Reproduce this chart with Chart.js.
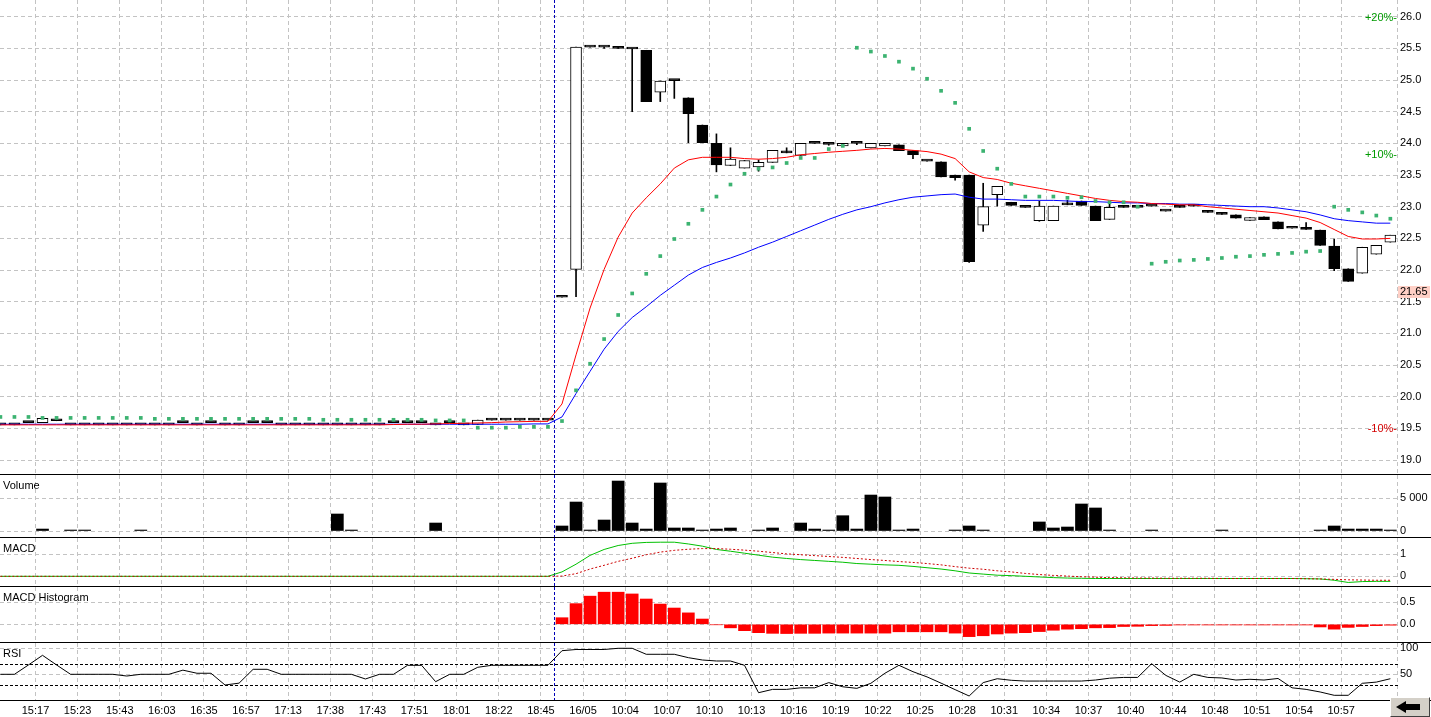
<!DOCTYPE html>
<html>
<head>
<meta charset="utf-8">
<title>Intraday chart</title>
<script src="https://cdn.jsdelivr.net/npm/chart.js@4.4.1/dist/chart.umd.min.js"></script>
<style>
  html, body { margin: 0; padding: 0; background: #fff; }
  #wrap { position: relative; width: 1431px; height: 717px; overflow: hidden; background: #fff; }
  #wrap canvas { position: absolute; left: 0; }
  .sep { position: absolute; left: 0; width: 1431px; height: 1px; background: #000; }
  #btn { position: absolute; left: 1390px; top: 697px; width: 40px; height: 20px; box-sizing: border-box;
         background: #d4d0c8; border-top: 1px solid #fff; border-left: 1px solid #fff;
         border-right: 1px solid #404040; border-bottom: 1px solid #404040; }
  #btn .head { position: absolute; left: 5px; top: 3px; width: 0; height: 0;
               border-top: 6px solid transparent; border-bottom: 6px solid transparent; border-right: 10px solid #000; }
  #btn .tail { position: absolute; left: 14px; top: 6px; width: 15px; height: 6px; background: #000; }
</style>
</head>
<body>
<div id="wrap">
  <canvas id="price" width="1431" height="474" style="top:0px"></canvas>
  <canvas id="volume" width="1431" height="62" style="top:475px"></canvas>
  <canvas id="macd" width="1431" height="48" style="top:538px"></canvas>
  <canvas id="hist" width="1431" height="55" style="top:587px"></canvas>
  <canvas id="rsi" width="1431" height="74" style="top:643px"></canvas>
  <div class="sep" style="top:474px"></div>
  <div class="sep" style="top:537px"></div>
  <div class="sep" style="top:586px"></div>
  <div class="sep" style="top:642px"></div>
  <div class="sep" style="top:700px"></div>
  <div id="btn"><div class="head"></div><div class="tail"></div></div>
</div>
<script>
// ---------------- data ----------------
// one entry per bar: 40 bars of the previous session, then 60 bars of 16/05
const timeLabels = ['15:17','15:23','15:43','16:03','16:35','16:57','17:13','17:38','17:43','17:51','18:01','18:22','18:45',
  '16/05','10:04','10:07','10:10','10:13','10:16','10:19','10:22','10:25','10:28','10:31','10:34','10:37','10:40',
  '10:44','10:48','10:51','10:54','10:57'];
const sessionStart = 40;
const prevClose = 21.65;
const pctLevels = [20, 10, -10];

const opens = [
  19.555,19.555,19.59,19.59,19.62,19.555,19.555,19.555,19.555,19.555,
  19.555,19.555,19.555,19.59,19.555,19.59,19.555,19.555,19.59,19.59,
  19.555,19.555,19.555,19.555,19.555,19.555,19.555,19.555,19.59,19.59,
  19.59,19.555,19.59,19.555,19.56,19.63,19.63,19.63,19.63,19.63,
  21.57,22.01,25.52,25.52,25.53,25.49,25.47,24.81,24.99,24.72,
  24.29,24.00,23.65,23.61,23.63,23.70,23.875,23.81,24.00,23.985,
  23.96,24.00,23.93,23.96,23.975,23.885,23.72,23.71,23.50,23.50,
  22.71,23.19,23.07,22.99,22.78,22.78,23.03,23.09,23.01,22.80,
  23.01,22.99,23.01,22.93,23.01,23.03,22.93,22.90,22.87,22.785,
  22.84,22.76,22.66,22.675,22.63,22.38,22.02,21.95,22.25,22.44];
const highs = [
  19.555,19.555,19.59,19.66,19.62,19.555,19.555,19.555,19.555,19.555,
  19.555,19.555,19.555,19.59,19.555,19.59,19.555,19.555,19.59,19.59,
  19.555,19.555,19.555,19.555,19.555,19.555,19.555,19.555,19.59,19.59,
  19.59,19.555,19.59,19.555,19.63,19.63,19.63,19.63,19.63,19.63,
  21.57,25.52,25.52,25.52,25.53,25.49,25.47,24.985,24.99,24.72,
  24.29,24.15,23.93,23.73,23.74,23.89,23.93,24.00,24.00,23.985,
  24.00,24.00,24.00,24.00,23.975,23.885,23.72,23.71,23.50,23.50,
  23.37,23.32,23.07,22.99,23.09,23.01,23.10,23.09,23.01,23.05,
  23.01,22.99,23.01,22.93,23.01,23.03,22.93,22.90,22.87,22.83,
  22.84,22.76,22.66,22.75,22.63,22.49,22.02,22.36,22.39,22.55];
const lows = [
  19.555,19.555,19.59,19.59,19.62,19.555,19.555,19.555,19.555,19.555,
  19.555,19.555,19.555,19.59,19.555,19.59,19.555,19.555,19.59,19.59,
  19.555,19.555,19.555,19.555,19.555,19.555,19.555,19.555,19.59,19.59,
  19.59,19.555,19.59,19.555,19.56,19.63,19.63,19.63,19.63,19.63,
  21.57,21.58,25.52,25.50,25.50,24.50,24.66,24.66,24.71,24.01,
  24.01,23.55,23.65,23.61,23.56,23.70,23.85,23.81,24.00,23.97,
  23.96,23.98,23.93,23.96,23.885,23.76,23.72,23.47,23.42,22.12,
  22.61,23.01,23.02,22.99,22.77,22.78,23.03,23.02,22.78,22.80,
  22.99,22.99,23.01,22.93,22.99,23.01,22.91,22.88,22.82,22.785,
  22.795,22.65,22.66,22.64,22.39,21.99,21.82,21.95,22.25,22.44];
const closes = [
  19.555,19.555,19.59,19.66,19.62,19.555,19.555,19.555,19.555,19.555,
  19.555,19.555,19.555,19.59,19.555,19.59,19.555,19.555,19.59,19.59,
  19.555,19.555,19.555,19.555,19.555,19.555,19.555,19.555,19.59,19.59,
  19.59,19.555,19.59,19.555,19.63,19.63,19.63,19.63,19.63,19.63,
  21.57,25.52,25.52,25.52,25.50,25.49,24.66,24.985,24.99,24.47,
  24.01,23.66,23.75,23.73,23.70,23.89,23.85,24.00,24.00,23.985,
  24.00,24.00,24.00,24.00,23.885,23.82,23.72,23.47,23.46,22.13,
  23.00,23.32,23.02,22.99,23.01,23.01,23.03,23.02,22.78,22.99,
  22.99,22.99,23.01,22.93,22.99,23.01,22.91,22.88,22.82,22.83,
  22.795,22.65,22.66,22.64,22.39,22.02,21.82,22.36,22.39,22.55];

// moving averages (red = fast, blue = slow) and parabolic SAR
const emaFast = [
  19.555,19.555,19.555,19.555,19.555,19.555,19.555,19.555,19.555,19.555,
  19.555,19.555,19.555,19.555,19.555,19.555,19.555,19.555,19.555,19.555,
  19.555,19.555,19.555,19.555,19.555,19.555,19.555,19.555,19.56,19.565,
  19.565,19.57,19.575,19.58,19.585,19.59,19.60,19.605,19.61,19.61,
  19.885,20.66,21.40,22.01,22.52,22.90,23.14,23.36,23.61,23.74,
  23.78,23.78,23.78,23.76,23.75,23.76,23.78,23.82,23.84,23.86,
  23.875,23.89,23.91,23.92,23.91,23.89,23.87,23.83,23.76,23.55,
  23.46,23.43,23.37,23.33,23.29,23.25,23.21,23.17,23.13,23.10,
  23.08,23.07,23.05,23.04,23.03,23.03,23.00,22.98,22.96,22.94,
  22.92,22.90,22.86,22.82,22.75,22.64,22.53,22.49,22.49,22.50];
const emaSlow = [
  19.565,19.565,19.565,19.565,19.565,19.565,19.565,19.565,19.565,19.565,
  19.565,19.565,19.565,19.565,19.565,19.565,19.565,19.565,19.565,19.565,
  19.565,19.565,19.565,19.565,19.565,19.565,19.565,19.565,19.565,19.565,
  19.565,19.565,19.565,19.565,19.565,19.565,19.565,19.565,19.57,19.57,
  19.68,20.05,20.40,20.75,21.03,21.25,21.42,21.60,21.76,21.92,
  22.04,22.12,22.19,22.27,22.36,22.44,22.53,22.62,22.71,22.80,
  22.88,22.95,23.00,23.06,23.11,23.15,23.17,23.19,23.20,23.15,
  23.12,23.12,23.11,23.10,23.10,23.10,23.09,23.08,23.08,23.07,
  23.06,23.06,23.05,23.05,23.04,23.04,23.03,23.02,23.01,23.00,
  23.00,22.98,22.95,22.92,22.87,22.81,22.78,22.76,22.74,22.74];
const sar = [
  19.68,19.68,19.68,19.665,19.665,19.665,19.665,19.665,19.665,19.665,
  19.665,19.65,19.65,19.65,19.65,19.65,19.65,19.65,19.65,19.65,
  19.65,19.65,19.65,19.635,19.635,19.635,19.635,19.635,19.635,19.635,
  19.635,19.625,19.625,19.625,19.51,19.51,19.51,19.525,19.525,19.525,
  19.615,20.10,20.52,20.91,21.29,21.63,21.94,22.22,22.49,22.73,
  22.95,23.16,23.35,23.52,23.60,23.62,23.69,23.77,23.77,23.91,
  23.96,25.51,25.45,25.38,25.29,25.18,25.02,24.83,24.64,24.23,
  23.88,23.60,23.36,23.16,23.16,23.16,23.14,23.15,23.09,23.07,
  23.07,23.00,22.10,22.13,22.15,22.16,22.175,22.19,22.21,22.22,
  22.24,22.255,22.27,22.29,22.30,23.00,22.95,22.91,22.86,22.81];

const volume = [
  0,0,0,300,0,150,150,0,0,0,
  150,0,0,0,0,0,0,0,0,0,
  0,0,0,0,2600,150,0,0,0,0,
  0,1220,0,0,0,0,0,0,0,0,
  765,4430,150,1680,7640,1220,300,7340,460,460,
  150,300,460,0,150,460,0,1220,300,150,
  2340,300,5500,5200,150,300,0,0,150,765,
  150,0,0,0,1380,460,610,4130,3520,150,
  0,0,150,0,0,0,0,150,0,0,
  0,0,0,0,150,765,300,300,300,150];

const macd = [
  0,0,0,0,0,0,0,0,0,0, 0,0,0,0,0,0,0,0,0,0,
  0,0,0,0,0,0,0,0,0,0, 0,0,0,0,0,0,0,0,0,0,
  0.2,0.55,0.95,1.22,1.40,1.50,1.54,1.55,1.55,1.47,
  1.37,1.22,1.14,1.05,0.96,0.87,0.81,0.76,0.72,0.68,
  0.64,0.58,0.55,0.52,0.50,0.45,0.39,0.33,0.25,0.15,
  0.10,0.05,0.03,0.0,-0.03,-0.06,-0.08,-0.09,-0.1,-0.1,
  -0.1,-0.1,-0.1,-0.1,-0.1,-0.1,-0.1,-0.1,-0.1,-0.1,
  -0.1,-0.1,-0.1,-0.11,-0.12,-0.18,-0.28,-0.24,-0.23,-0.23];
const signal = [
  0,0,0,0,0,0,0,0,0,0, 0,0,0,0,0,0,0,0,0,0,
  0,0,0,0,0,0,0,0,0,0, 0,0,0,0,0,0,0,0,0,0,
  0.01,0.12,0.33,0.50,0.68,0.82,0.98,1.10,1.18,1.23,
  1.26,1.26,1.23,1.19,1.14,1.08,1.02,0.98,0.94,0.90,
  0.86,0.81,0.76,0.72,0.67,0.63,0.58,0.52,0.44,0.37,
  0.32,0.25,0.20,0.13,0.08,0.04,0.01,-0.02,-0.04,-0.06,
  -0.07,-0.08,-0.08,-0.09,-0.09,-0.09,-0.09,-0.1,-0.1,-0.1,
  -0.1,-0.1,-0.1,-0.11,-0.12,-0.14,-0.16,-0.17,-0.18,-0.18];
const histogram = [
  0,0,0,0,0,0,0,0,0,0, 0,0,0,0,0,0,0,0,0,0,
  0,0,0,0,0,0,0,0,0,0, 0,0,0,0,0,0,0,0,0,0,
  0.15,0.47,0.64,0.73,0.73,0.69,0.575,0.46,0.37,0.26,
  0.12,-0.01,-0.08,-0.145,-0.19,-0.205,-0.21,-0.205,-0.205,-0.2,
  -0.2,-0.2,-0.2,-0.2,-0.17,-0.17,-0.17,-0.17,-0.2,-0.28,
  -0.26,-0.22,-0.2,-0.19,-0.165,-0.135,-0.11,-0.10,-0.08,-0.075,
  -0.05,-0.045,-0.03,-0.025,-0.015,-0.015,-0.015,-0.015,-0.015,-0.015,
  -0.015,-0.015,-0.015,-0.015,-0.06,-0.11,-0.07,-0.05,-0.03,-0.02];

const rsi = [
  50,50,68,86.5,68,50,50,50,50,46.7,
  50,50,50,58,52,52,29.4,33,59.6,59.6,
  50,50,50,50,50,50,41,50,50,67.3,
  67.3,35.8,50,50,63.5,67.3,67.3,67.3,67.3,67.3,
  95.4,97.7,97.7,97.7,100,100,88.5,88.5,88.5,82,
  77.5,75.6,75.6,67.3,14.6,21,21,24,24,34,
  26,23,32.7,52,67.3,55,45,33,20.5,8.3,
  34,41.5,38.5,37,37,37,37,37,39,42.5,
  44,44,70.4,48,35,50,44,43,39,40.4,
  39,42,24,21,16,9.6,9.6,32.7,35,41.5];
const rsiLevels = [70, 30];

const priceTicks = [19.0,19.5,20.0,20.5,21.0,21.5,22.0,22.5,23.0,23.5,24.0,24.5,25.0,25.5,26.0];
const volumeTicks = [0, 5000];
const macdTicks = [0, 1];
const histTicks = [0, 0.5];
const rsiTicks = [50, 100];

// ---------------- helpers ----------------
Chart.defaults.font.family = '"Liberation Sans", Arial, sans-serif';
Chart.defaults.font.size = 11;
Chart.defaults.color = '#000';

const idx = opens.map((_, i) => i);
const gridAt = timeLabels.map((_, m) => 2.5 + 3 * m);
const GRID = '#c3c3c3';

function noPadding(s) {
  s.paddingTop = 0; s.paddingBottom = 0; s.paddingLeft = 0; s.paddingRight = 0;
}

function xScale(showLabels) {
  return {
    type: 'linear', min: -0.0285, max: 99.545, bounds: 'data', offset: false,
    afterBuildTicks: s => { s.ticks = gridAt.map(v => ({ value: v })); },
    afterFit: s => { s.height = showLabels ? 17 : 0; noPadding(s); },
    grid: { color: GRID, drawTicks: false, offset: false },
    border: { display: false, dash: [4, 3] },
    ticks: { display: showLabels, autoSkip: false, maxRotation: 0, padding: 4,
             callback: (v, i) => timeLabels[i] }
  };
}

function yScale(min, max, ticks, fmt) {
  return {
    position: 'right', min: min, max: max, bounds: 'data',
    afterBuildTicks: s => { s.ticks = ticks.map(v => ({ value: v })); },
    afterFit: s => { s.width = 33; noPadding(s); },
    grid: { color: GRID, drawTicks: false },
    border: { display: false, dash: [4, 3] },
    ticks: { padding: 2, autoSkip: false, callback: fmt }
  };
}

// separator for the session, right-hand dashed axis, panel name, reference lines
const panelPlugin = {
  id: 'panel',
  beforeDatasetsDraw(chart, args, opts) {
    const { ctx, chartArea } = chart;
    const xs = chart.scales.x;
    ctx.save();
    ctx.lineWidth = 1;
    // right axis line
    ctx.strokeStyle = GRID;
    ctx.setLineDash([4, 3]);
    ctx.beginPath();
    ctx.moveTo(Math.round(chartArea.right) - 0.5, chartArea.top);
    ctx.lineTo(Math.round(chartArea.right) - 0.5, chartArea.bottom);
    ctx.stroke();
    // overbought / oversold lines
    if (opts.levels) {
      ctx.strokeStyle = '#000';
      ctx.setLineDash([3, 2]);
      opts.levels.forEach(v => {
        const y = Math.round(chart.scales.y.getPixelForValue(v)) + 0.5;
        ctx.beginPath();
        ctx.moveTo(chartArea.left, y);
        ctx.lineTo(chartArea.right, y);
        ctx.stroke();
      });
    }
    // start of the new session
    const x = Math.round(xs.getPixelForValue(sessionStart - 0.5)) - 0.5;
    ctx.strokeStyle = '#0000b8';
    ctx.setLineDash([3, 2]);
    ctx.beginPath();
    ctx.moveTo(x, chartArea.top);
    ctx.lineTo(x, chartArea.bottom);
    ctx.stroke();
    ctx.restore();
  },
  afterDraw(chart, args, opts) {
    const { ctx, chartArea } = chart;
    ctx.save();
    ctx.font = '11px "Liberation Sans", Arial, sans-serif';
    ctx.textBaseline = 'middle';
    if (opts.label) {
      ctx.fillStyle = '#000';
      ctx.textAlign = 'left';
      ctx.fillText(opts.label, 3, chartArea.top + 11);
    }
    if (opts.percent) {
      const ys = chart.scales.y;
      ctx.textAlign = 'right';
      pctLevels.forEach(p => {
        const y = ys.getPixelForValue(prevClose * (1 + p / 100));
        ctx.fillStyle = p > 0 ? '#009a00' : '#d40000';
        ctx.fillText((p > 0 ? '+' : '') + p + '%-', chartArea.right - 1, y);
      });
      const yc = Math.round(ys.getPixelForValue(prevClose));
      ctx.fillStyle = '#ffd0c6';
      ctx.fillRect(chartArea.right, yc - 6, chart.width - chartArea.right - 1, 12);
      ctx.fillStyle = '#000';
      ctx.textAlign = 'left';
      ctx.fillText(prevClose.toFixed(2), chartArea.right + 2, yc);
    }
    ctx.restore();
  }
};

function options(x, y, panel) {
  return {
    responsive: false, animation: false, devicePixelRatio: 1, events: [],
    layout: { padding: 0, autoPadding: false },
    plugins: { legend: { display: false }, tooltip: { enabled: false }, panel: panel },
    scales: { x: x, y: y }
  };
}

// ---------------- price ----------------
new Chart(document.getElementById('price'), {
  type: 'bar',
  data: {
    datasets: [
      { type: 'bar', data: idx.map(i => ({ x: i, y: [lows[i], highs[i]] })),
        backgroundColor: '#000', barThickness: 1, grouped: false, order: 6 },
      { type: 'bar', data: idx.map(i => ({ x: i, y: [opens[i], closes[i]] })),
        backgroundColor: idx.map(i => closes[i] > opens[i] ? '#fff' : '#000'),
        borderColor: '#000', borderWidth: 1, borderSkipped: false, minBarLength: 2,
        barThickness: 11, grouped: false, order: 5 },
      { type: 'line', data: idx.map(i => ({ x: i, y: emaSlow[i] })),
        borderColor: '#0000ff', borderWidth: 1, pointRadius: 0, tension: 0, order: 3 },
      { type: 'line', data: idx.map(i => ({ x: i, y: emaFast[i] })),
        borderColor: '#ff0000', borderWidth: 1, pointRadius: 0, tension: 0, order: 2 },
      { type: 'line', data: idx.map(i => ({ x: i, y: sar[i] })), showLine: false,
        pointStyle: 'rect', pointRadius: 2.6, pointBackgroundColor: '#3cb371',
        pointBorderWidth: 0, order: 1 }
    ]
  },
  options: options(xScale(false), yScale(18.779, 26.264, priceTicks, v => v.toFixed(1)),
                   { percent: true }),
  plugins: [panelPlugin]
});

// ---------------- volume ----------------
new Chart(document.getElementById('volume'), {
  type: 'bar',
  data: {
    datasets: [{ data: idx.filter(i => volume[i] > 0).map(i => ({ x: i, y: volume[i] })),
                 backgroundColor: '#000', barThickness: 12, grouped: false }]
  },
  options: options(xScale(false),
                   yScale(-917, 8563, volumeTicks, v => v === 0 ? '0' : (v / 1000) + ' 000'),
                   { label: 'Volume' }),
  plugins: [panelPlugin]
});

// ---------------- MACD ----------------
new Chart(document.getElementById('macd'), {
  type: 'line',
  data: {
    datasets: [
      { data: idx.map(i => ({ x: i, y: macd[i] })), borderColor: '#00c000', borderWidth: 1,
        pointRadius: 0, tension: 0, order: 2 },
      { data: idx.map(i => ({ x: i, y: signal[i] })), borderColor: '#cc0000', borderWidth: 1,
        borderDash: [2, 2], pointRadius: 0, tension: 0, order: 1 }
    ]
  },
  options: options(xScale(false), yScale(-0.441, 1.741, macdTicks, v => String(v)),
                   { label: 'MACD' }),
  plugins: [panelPlugin]
});

// ---------------- MACD histogram ----------------
new Chart(document.getElementById('hist'), {
  type: 'bar',
  data: {
    datasets: [{ data: idx.filter(i => histogram[i] !== 0).map(i => ({ x: i, y: histogram[i] })),
                 backgroundColor: '#ff0000', barThickness: 12, grouped: false }]
  },
  options: options(xScale(false), yScale(-0.402, 0.848, histTicks, v => v.toFixed(1)),
                   { label: 'MACD Histogram' }),
  plugins: [panelPlugin]
});

// ---------------- RSI ----------------
new Chart(document.getElementById('rsi'), {
  type: 'line',
  data: {
    datasets: [{ data: idx.map(i => ({ x: i, y: rsi[i] })), borderColor: '#000', borderWidth: 1,
                 pointRadius: 0, tension: 0 }]
  },
  options: options(xScale(true), yScale(0.58, 110.2, rsiTicks, v => String(v)),
                   { label: 'RSI', levels: rsiLevels }),
  plugins: [panelPlugin]
});
</script>
</body>
</html>
